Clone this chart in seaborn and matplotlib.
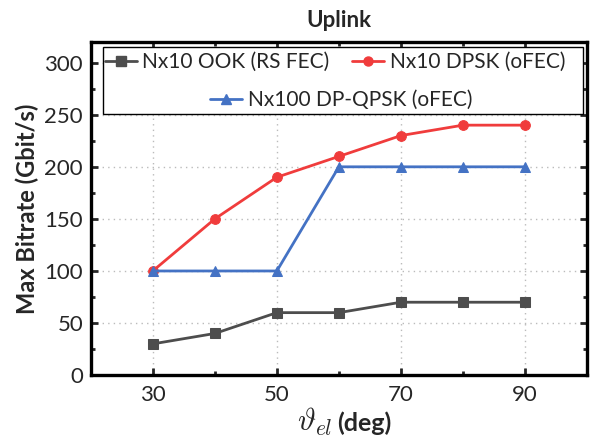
import matplotlib
matplotlib.use("Agg")
import matplotlib.pyplot as plt
import seaborn as sns
import pandas as pd
from matplotlib.lines import Line2D
from matplotlib.patches import Rectangle
from matplotlib.ticker import MultipleLocator

elev = [30, 40, 50, 60, 70, 80, 90]
ook = [30, 40, 60, 60, 70, 70, 70]
dpsk = [100, 150, 190, 210, 230, 240, 240]
qpsk = [100, 100, 100, 200, 200, 200, 200]
labels = ["Nx10 OOK (RS FEC)", "Nx10 DPSK (oFEC)", "Nx100 DP-QPSK (oFEC)"]
colors = ["#4d4d4d", "#f03c3c", "#4472c4"]
markers = ["s", "o", "^"]

sns.set_style("ticks")
plt.rcParams["font.family"] = ["Lato", "DejaVu Sans"]
plt.rcParams["mathtext.fontset"] = "cm"

fig = plt.figure(figsize=(5.93, 4.45), dpi=100)
ax = fig.add_axes([0.153, 0.157, 0.837, 0.749])

for vals, lab, c, m in zip([ook, dpsk, qpsk], labels, colors, markers):
    df = pd.DataFrame({"x": elev, "y": vals})
    sns.lineplot(data=df, x="x", y="y", ax=ax, color=c, marker=m, markersize=7,
                 markeredgecolor=c, linewidth=2, legend=False)

ax.set_xlim(20, 100)
ax.set_ylim(0, 320)
ax.set_xticks([30, 50, 70, 90])
ax.xaxis.set_minor_locator(MultipleLocator(10))
ax.set_yticks([0, 50, 100, 150, 200, 250, 300])
ax.yaxis.set_minor_locator(MultipleLocator(25))
ax.tick_params(which="both", direction="in", top=True, right=True, width=2)
ax.tick_params(which="major", length=5, labelsize=16)
ax.tick_params(axis="y", which="major", pad=5.5)
ax.tick_params(axis="x", which="major", pad=7)
ax.tick_params(which="minor", length=3)
ax.grid(True, which="major", linestyle=(0, (1, 3)), color="#bbbbbb", linewidth=1)
for s in ax.spines.values():
    s.set_linewidth(2.4)
    s.set_color("black")

ax.set_xlabel("")
ax.set_ylabel("Max Bitrate (Gbit/s)", fontsize=17, fontweight="bold", labelpad=4)
ax.set_title("Uplink", fontsize=16, fontweight="bold", pad=11)

fig.text(0.5616, 0.032, r"$\vartheta_{el}$", fontsize=22, ha="right", va="baseline")
fig.text(0.569, 0.032, "(deg)", fontsize=18, fontweight="bold", ha="left", va="baseline")

# legend frame
rect = Rectangle((103 / 593, 1 - 114 / 445), 480 / 593, 67 / 445, transform=fig.transFigure,
                 facecolor="white", edgecolor="black", linewidth=1, zorder=4)
ax.add_artist(rect)
rect.set_clip_on(False)

h = [Line2D([], [], color=c, marker=m, markersize=6.5, linewidth=2, markeredgecolor=c)
     for c, m in zip(colors, markers)]
pos = [(105, 62), (352, 62), (210, 100)]
for hd, lab, (px, py) in zip(h, labels, pos):
    lg = fig.legend([hd], [lab], loc="center left", bbox_to_anchor=(px / 593, 1 - py / 445),
                    fontsize=15, frameon=False, handlelength=1.55, handletextpad=0.25,
                    borderpad=0, borderaxespad=0)
    lg.set_zorder(6)

fig.savefig("out.png", dpi=100)
